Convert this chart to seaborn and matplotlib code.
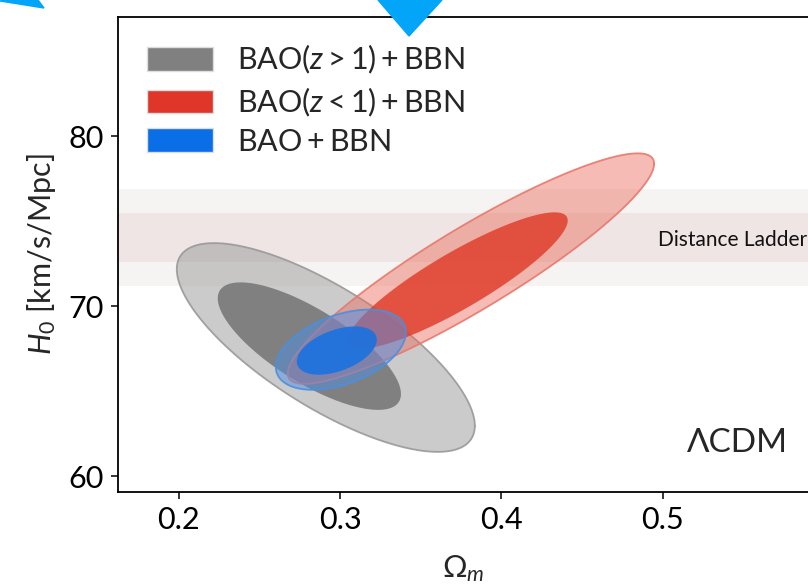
import numpy as np
import matplotlib
matplotlib.use("Agg")
import matplotlib.pyplot as plt
from matplotlib.patches import Patch, Polygon
import seaborn as sns

# data sets (order: z>1, z<1, all)
labels = [r"$\mathrm{BAO}(z>1)+\mathrm{BBN}$",
          r"$\mathrm{BAO}(z<1)+\mathrm{BBN}$",
          r"$\mathrm{BAO}+\mathrm{BBN}$"]

# 68% contours: centre, half extent along each axis, correlation
om_c68 = [0.281, 0.373, 0.298]
h0_c68 = [67.64, 71.50, 67.38]
om_w68 = [0.0568, 0.0682, 0.0248]
h0_w68 = [3.75, 4.01, 1.42]
rho68 = [-0.75, 0.88, 0.45]

# 95% contours
om_c95 = [0.2912, 0.3812, 0.3005]
h0_c95 = [67.56, 72.20, 67.43]
om_w95 = [0.0924, 0.1136, 0.0403]
h0_w95 = [6.14, 6.78, 2.36]
rho95 = [-0.75, 0.91, 0.43]

# distance ladder H0
h0_ladder = 74.03
h0_ladder_err = 1.42

xticks = [0.2, 0.3, 0.4, 0.5]
yticks = [60, 70, 80]

# styles
inner_cols = ["#808080", "#e0402c", "#1a72e0"]
inner_alpha = [1.0, 0.85, 0.9]
outer_cols = ["#999999", "#ea6a5a", "#4f8fe6"]
outer_alpha = [0.5, 0.45, 0.5]
edge_cols = ["#999999", "#e8786c", "#4a8fe0"]
legend_cols = ["#808080", "#e0362a", "#0a6ee6"]

sns.set_theme(style="ticks")
plt.rcParams["font.family"] = ["Lato", "DejaVu Sans"]
plt.rcParams["mathtext.fontset"] = "custom"
plt.rcParams["mathtext.rm"] = "Lato"
plt.rcParams["mathtext.it"] = "Lato:italic"
plt.rcParams["mathtext.fallback"] = "cm"


def ellipse(cx, cy, wx, wy, rho, n=300):
    t = np.linspace(0, 2 * np.pi, n)
    x = cx + wx * np.cos(t)
    y = cy + wy * (rho * np.cos(t) + np.sqrt(1 - rho ** 2) * np.sin(t))
    return x, y


fig = plt.figure(figsize=(8.08, 5.86), dpi=100)
ax = fig.add_axes([118 / 808, 94 / 586, 691 / 808, 475 / 586])

# distance ladder bands
ax.axhspan(h0_ladder - 2 * h0_ladder_err, h0_ladder + 2 * h0_ladder_err,
           color="#f6f4f2", lw=0, zorder=0)
ax.axhspan(h0_ladder - h0_ladder_err, h0_ladder + h0_ladder_err,
           color="#eee5e4", lw=0, zorder=0.5)
ax.text(0.497, h0_ladder - 0.15, "Distance Ladder", fontsize=15,
        ha="left", va="center", color="#111111")

for i in range(3):
    x, y = ellipse(om_c95[i], h0_c95[i], om_w95[i], h0_w95[i], rho95[i])
    ax.fill(x, y, color=outer_cols[i], alpha=outer_alpha[i], lw=0, zorder=2 + 2 * i)
    ax.plot(x, y, color=edge_cols[i], lw=1.3, alpha=0.9, zorder=2 + 2 * i)
    x, y = ellipse(om_c68[i], h0_c68[i], om_w68[i], h0_w68[i], rho68[i])
    ax.fill(x, y, color=inner_cols[i], alpha=inner_alpha[i], lw=0, zorder=3 + 2 * i)

ax.text(0.5775, 61.95, "ΛCDM", fontsize=24, ha="right", va="center")

handles = [Patch(facecolor=c, edgecolor="#dddddd", lw=1) for c in legend_cols]
ax.legend(handles, labels, loc="upper left", bbox_to_anchor=(0.042, 0.945),
          frameon=False, fontsize=22, handlelength=2.15, handleheight=0.8,
          handletextpad=0.8, labelspacing=0.3, borderpad=0, borderaxespad=0)

ax.set_xlim(0.16235, 0.5908)
ax.set_ylim(59.06, 87.0)
ax.set_xticks(xticks)
ax.set_yticks(yticks)
ax.set_xticklabels([str(v) for v in xticks])
ax.tick_params(direction="out", length=5, width=1.1, labelsize=22, pad=5,
               color="black", labelcolor="black")
for s in ax.spines.values():
    s.set_color("black")
    s.set_linewidth(1.3)
ax.set_xlabel(r"$\Omega_m$", fontsize=22, labelpad=14)
ax.set_ylabel(r"$H_0$ [km/s/Mpc]", fontsize=22, labelpad=8)

# blue pointer marks on top of the screenshot
fig.patches.append(Polygon([[378 / 808, 1.0], [442 / 808, 1.0], [409 / 808, 1 - 36 / 586]],
                           closed=True, transform=fig.transFigure, color="#03a5f8"))
fig.patches.append(Polygon([[4 / 808, 1.0], [38 / 808, 1.0], [44 / 808, 1 - 8 / 586], [0, 1 - 1 / 586]],
                           closed=True, transform=fig.transFigure, color="#03a5f8"))

fig.savefig("out.png", dpi=100)
